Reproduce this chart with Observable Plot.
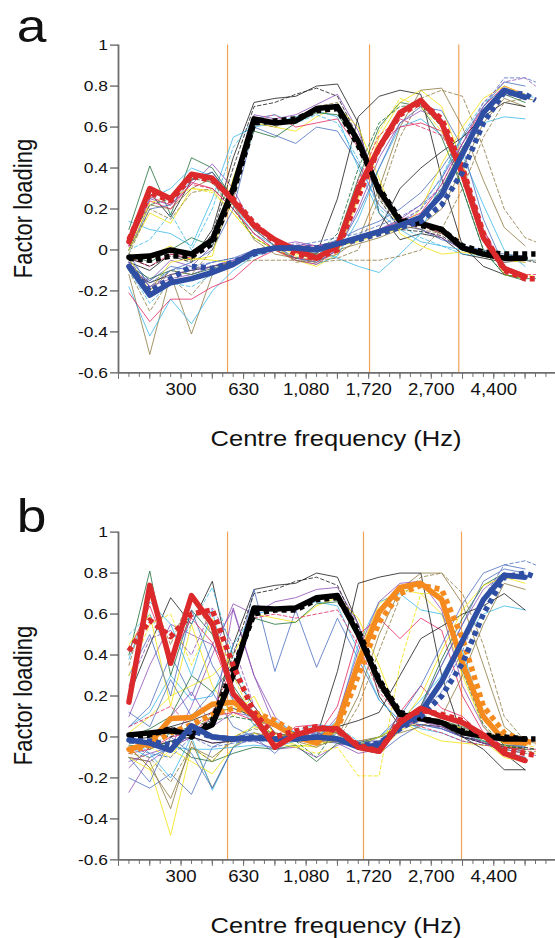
<!DOCTYPE html>
<html><head><meta charset="utf-8">
<script src="https://cdn.jsdelivr.net/npm/d3@7"></script>
<script src="https://cdn.jsdelivr.net/npm/@observablehq/plot@0.6"></script>
<style>
html,body{margin:0;padding:0;background:#fff;overflow:hidden;}
#chart{position:relative;width:555px;height:938px;background:#fff;}
.panel{position:absolute;left:0;}
</style></head><body><div id="chart"></div>
<script>
// ---------- axes / ticks ----------
const bandCentres = [0.5,1.5,2.5,3.5,4.5,5.5,6.5,7.5,8.5,9.5,10.5,11.5,12.5,13.5,14.5,15.5,16.5,17.5,18.5,19.5];
const bandCentresDashed = [0.5,1.5,2.5,3.5,4.5,5.5,6.5,7.5,8.5,9.5,10.5,11.5,12.5,13.5,14.5,15.5,16.5,17.5,18.5,19.5,20];
const xLabelBarks = [3,6,9,12,15,18];
const xLabels = ["300","630","1,080","1,720","2,700","4,400"];
const xMinorTicks = [0,0.5,1,1.5,2,2.5,3,3.5,4,4.5,5,5.5,6,6.5,7,7.5,8,8.5,9,9.5,10,10.5,11,11.5,12,12.5,13,13.5,14,14.5,15,15.5,16,16.5,17,17.5,18,18.5,19,19.5,20,20.5,21];
const xMajorTicks = [0,1.5,3,4.5,6,7.5,9,10.5,12,13.5,15,16.5,18,19.5,21];
const yTicks = [1,0.8,0.6,0.4,0.2,0,-0.2,-0.4,-0.6];
const aDividers = [5.23,12.04,16.32];
const bDividers = [5.23,11.75,16.45];

// ---------- panel a: thick factor lines ----------
const aBlack      = [-0.035,-0.03,0.0,-0.02,0.05,0.30,0.64,0.62,0.63,0.69,0.70,0.53,0.29,0.14,0.13,0.10,0.01,-0.02,-0.04,-0.04];
const aBlackDash  = [-0.04,-0.05,-0.03,-0.03,0.03,0.28,0.62,0.63,0.64,0.68,0.69,0.51,0.30,0.15,0.12,0.10,0.02,-0.01,-0.02,-0.02,-0.02];
const aRed        = [0.04,0.30,0.25,0.37,0.35,0.24,0.12,0.05,0.0,-0.04,0.02,0.30,0.50,0.67,0.73,0.62,0.37,0.06,-0.09,-0.13];
const aRedDash    = [0.05,0.28,0.24,0.36,0.34,0.25,0.13,0.04,-0.02,-0.04,0.0,0.26,0.50,0.66,0.72,0.64,0.40,0.08,-0.10,-0.14,-0.14];
const aBlue       = [-0.08,-0.22,-0.16,-0.14,-0.11,-0.07,-0.01,0.01,0.01,0.0,0.03,0.06,0.09,0.12,0.16,0.27,0.47,0.67,0.78,0.745];
const aBlueDash   = [-0.08,-0.20,-0.14,-0.08,-0.09,-0.06,-0.02,0.01,0.01,0.01,0.03,0.05,0.08,0.11,0.14,0.22,0.38,0.62,0.77,0.76,0.73];

// ---------- panel a: thin individual lines ----------
const aThinSolid = [
  [-0.06,-0.10,-0.02,-0.05,0.10,0.45,0.72,0.74,0.75,0.80,0.81,0.62,0.18,0.05,0.08,0.06,-0.02,-0.04,-0.06,-0.05],
  [-0.10,-0.15,-0.05,-0.08,0.02,0.28,0.66,0.64,0.66,0.71,0.76,0.58,0.30,0.14,0.10,0.06,0.0,-0.03,-0.05,-0.06],
  [-0.02,-0.18,-0.10,-0.06,0.0,0.20,0.60,0.56,0.52,0.60,0.58,0.42,0.22,0.12,0.10,0.05,0.02,0.0,-0.02,-0.03],
  [0.14,0.10,0.08,0.02,0.25,0.55,0.60,0.62,0.65,0.68,0.65,0.40,0.18,0.10,0.04,0.02,0.0,-0.02,-0.03,-0.05],
  [-0.05,-0.03,0.02,-0.05,-0.03,0.35,0.62,0.60,0.58,0.65,0.70,0.60,0.35,0.08,0.02,-0.02,-0.01,-0.03,-0.05,-0.06],
  [-0.02,-0.06,0.0,0.06,0.02,0.30,0.58,0.55,0.62,0.67,0.66,0.52,0.28,0.14,0.12,0.08,0.02,-0.01,-0.03,-0.04],
  [-0.04,-0.08,-0.02,-0.04,0.04,0.32,0.64,0.66,0.60,0.62,0.64,0.50,0.30,0.16,0.12,0.08,0.02,-0.02,-0.04,-0.05],
  [0.10,0.41,0.17,0.45,0.40,0.25,0.10,0.05,0.0,-0.03,0.05,0.35,0.60,0.72,0.70,0.55,0.30,0.0,-0.12,-0.15],
  [0.0,0.28,0.16,0.34,0.38,0.25,0.12,0.04,0.0,-0.02,0.25,0.65,0.75,0.78,0.76,0.35,0.02,-0.08,-0.12,-0.14],
  [0.02,0.25,0.22,0.32,0.42,0.30,0.10,0.02,-0.04,-0.06,0.0,0.20,0.45,0.62,0.68,0.64,0.42,0.10,-0.10,-0.14],
  [0.0,0.18,0.13,0.30,0.29,0.18,0.06,0.0,-0.05,-0.08,-0.02,0.25,0.55,0.72,0.78,0.70,0.42,0.08,-0.12,-0.14],
  [0.05,0.25,0.30,0.40,0.36,0.22,0.08,0.02,-0.05,-0.07,-0.03,0.15,0.40,0.60,0.64,0.56,0.46,0.22,0.0,-0.08],
  [0.0,0.22,0.20,0.30,0.35,0.22,0.05,-0.02,-0.04,-0.05,-0.02,0.05,0.30,0.60,0.78,0.79,0.60,0.34,0.11,0.02],
  [0.02,0.24,0.20,0.33,0.30,0.20,0.08,0.0,-0.05,-0.07,0.0,0.28,0.52,0.60,0.62,0.58,0.35,0.05,-0.10,-0.13],
  [0.0,0.20,0.22,0.34,0.38,0.24,0.10,0.02,-0.04,-0.06,0.0,0.18,0.40,0.62,0.70,0.68,0.50,0.15,-0.08,-0.12],
  [-0.12,-0.51,-0.12,-0.41,-0.12,-0.08,-0.02,0.0,0.0,-0.02,0.0,0.03,0.06,0.10,0.12,0.20,0.40,0.62,0.74,0.70],
  [-0.18,-0.42,-0.24,-0.36,-0.20,-0.10,-0.03,0.0,0.02,0.0,-0.04,-0.08,-0.11,-0.02,0.08,0.35,0.55,0.62,0.65,0.64],
  [-0.21,-0.35,-0.24,-0.24,-0.18,-0.14,-0.05,0.0,0.02,0.02,0.04,0.06,0.10,0.14,0.18,0.32,0.52,0.70,0.80,0.76],
  [-0.05,-0.15,-0.08,-0.10,-0.06,-0.04,0.0,0.02,0.0,0.01,0.05,0.10,0.14,0.20,0.28,0.40,0.55,0.70,0.82,0.80],
  [-0.06,-0.18,-0.14,-0.12,-0.08,-0.05,0.0,0.02,0.04,0.02,0.04,0.07,0.10,0.15,0.22,0.35,0.52,0.68,0.76,0.74],
  [-0.04,-0.20,-0.06,-0.04,-0.05,-0.06,0.0,0.02,-0.02,-0.04,0.02,0.04,0.08,0.10,0.20,0.42,0.60,0.74,0.80,0.76],
  [-0.08,-0.14,-0.10,-0.12,-0.09,-0.06,-0.01,0.01,0.02,0.0,0.02,0.05,0.08,0.12,0.16,0.30,0.50,0.66,0.76,0.72],
  [-0.10,-0.16,-0.12,-0.10,-0.08,-0.06,-0.02,0.0,0.0,0.0,0.03,0.06,0.10,0.30,0.40,0.48,0.55,0.65,0.72,0.70]
];
const aThinSolidColors = ["black","purple","steel","cyan","yellow","green","crimson",
  "green","black","purple","yellow","cyan","brown","crimson","steel",
  "brown","cyan","crimson","steel","purple","yellow","green","black"];
const aThinDashed = [
  [-0.04,-0.08,-0.03,-0.06,0.08,0.40,0.70,0.72,0.76,0.79,0.75,0.55,0.25,0.10,0.09,0.07,0.0,-0.03,-0.05,-0.05,-0.06],
  [0.0,0.05,0.18,0.0,0.20,0.50,0.64,0.66,0.62,0.66,0.62,0.44,0.20,0.12,0.06,0.02,-0.02,-0.03,-0.04,-0.05,-0.05],
  [-0.08,-0.20,-0.10,-0.12,0.0,0.25,0.62,0.60,0.64,0.70,0.72,0.50,0.26,0.12,0.10,0.08,0.02,-0.02,-0.04,-0.05,-0.05],
  [0.05,0.22,0.25,0.35,0.33,0.20,0.06,0.0,-0.04,-0.02,0.08,0.40,0.62,0.70,0.71,0.60,0.30,0.0,-0.12,-0.14,-0.14],
  [-0.02,0.20,0.15,0.28,0.30,0.22,0.10,0.02,-0.06,-0.05,-0.04,0.0,0.25,0.55,0.74,0.78,0.75,0.50,0.20,0.06,0.04],
  [0.0,0.23,0.26,0.30,0.28,0.18,0.06,0.0,-0.03,-0.05,0.02,0.30,0.58,0.74,0.70,0.58,0.36,0.05,-0.10,-0.12,-0.13],
  [0.02,0.26,0.22,0.32,0.30,0.20,0.08,0.0,-0.04,-0.05,0.04,0.34,0.56,0.64,0.60,0.56,0.40,0.10,-0.08,-0.12,-0.12],
  [-0.06,-0.16,-0.10,-0.08,-0.06,-0.04,-0.02,0.0,0.02,0.04,0.06,0.08,0.12,0.16,0.22,0.30,0.46,0.70,0.84,0.84,0.82],
  [-0.10,-0.30,-0.14,-0.22,-0.10,-0.06,-0.05,-0.05,-0.05,-0.06,-0.05,-0.05,-0.05,-0.03,0.0,0.10,0.30,0.55,0.72,0.74,0.73],
  [-0.10,-0.26,-0.16,-0.18,-0.12,-0.08,-0.02,0.0,0.0,0.0,0.03,0.06,0.10,0.13,0.20,0.36,0.56,0.72,0.78,0.76,0.74],
  [-0.06,-0.18,-0.12,-0.10,-0.08,-0.05,-0.01,0.01,0.03,0.02,0.04,0.06,0.10,0.14,0.20,0.32,0.52,0.72,0.82,0.84,0.80]
];
const aThinDashedColors = ["black","cyan","brown","green","brown","yellow","crimson","steel","brown","cyan","purple"];

// ---------- panel b: thick factor lines ----------
const bOrange     = [-0.06,-0.03,0.09,0.095,0.16,0.17,0.11,0.06,0.0,-0.03,0.06,0.36,0.61,0.73,0.75,0.67,0.36,0.10,-0.02,-0.03];
const bOrangeDash = [-0.07,-0.04,0.02,0.06,0.11,0.14,0.12,0.08,0.02,-0.02,0.04,0.30,0.56,0.70,0.74,0.72,0.48,0.15,0.02,-0.02,-0.03];
const bBlack      = [0.01,0.02,0.03,0.015,0.06,0.30,0.63,0.625,0.63,0.68,0.69,0.50,0.27,0.11,0.09,0.07,0.02,0.005,-0.01,-0.01];
const bBlackDash  = [0.0,0.01,0.04,0.0,0.08,0.33,0.60,0.62,0.62,0.67,0.68,0.52,0.28,0.12,0.09,0.07,0.03,0.01,0.0,-0.01,-0.01];
const bBlue       = [-0.015,-0.03,-0.065,0.055,0.0,-0.01,-0.005,-0.01,-0.01,0.0,-0.01,-0.05,-0.04,0.05,0.12,0.27,0.47,0.67,0.79,0.78];
const bBlueDash   = [-0.02,-0.02,-0.04,0.03,0.0,-0.01,0.0,-0.01,-0.01,0.0,-0.01,-0.04,-0.03,0.04,0.10,0.20,0.36,0.60,0.78,0.80,0.78];
const bRed        = [0.17,0.74,0.36,0.69,0.55,0.21,0.10,-0.05,0.01,0.04,0.04,-0.05,-0.07,0.07,0.14,0.10,0.07,0.01,-0.08,-0.115];
const bRedDash    = [0.42,0.57,0.49,0.60,0.62,0.35,0.12,0.0,0.03,0.05,0.03,-0.04,-0.07,0.08,0.13,0.11,0.08,0.0,-0.06,-0.08,-0.09];

// ---------- panel b: thin individual lines ----------
const bThinSolid = [
  [0.0,0.02,0.05,0.0,0.08,0.45,0.72,0.74,0.75,0.80,0.78,0.55,0.20,0.05,0.06,0.05,0.0,-0.02,-0.04,-0.04],
  [-0.10,-0.12,-0.05,0.15,0.40,0.65,0.60,0.66,0.68,0.72,0.73,0.55,0.28,0.10,0.08,0.04,0.0,-0.03,-0.05,-0.05],
  [0.05,0.15,0.40,0.20,0.45,0.30,0.72,0.32,0.62,0.34,0.58,0.38,0.18,0.08,0.06,0.04,0.0,-0.02,-0.04,-0.05],
  [0.05,0.12,0.30,0.18,0.20,0.45,0.60,0.62,0.64,0.66,0.64,0.42,0.18,0.08,0.04,0.02,-0.02,-0.04,-0.05,-0.06],
  [0.02,0.10,0.20,0.25,0.30,0.40,0.60,0.58,0.56,0.64,0.68,0.58,0.35,0.08,0.02,-0.02,-0.03,-0.04,-0.05,-0.06],
  [0.0,0.04,0.10,0.30,0.22,0.35,0.58,0.55,0.56,0.65,0.66,0.52,0.28,0.12,0.10,0.06,0.0,-0.02,-0.04,-0.06],
  [0.40,0.81,0.30,0.62,0.50,0.25,0.10,0.0,0.02,0.04,0.0,-0.06,-0.08,0.05,0.10,0.08,0.05,0.0,-0.08,-0.10],
  [0.20,0.45,0.68,0.55,0.76,0.30,0.15,0.02,0.0,0.05,0.02,-0.04,-0.06,0.12,0.10,0.08,0.03,-0.02,-0.08,-0.16],
  [0.10,0.35,0.55,0.50,0.45,0.62,0.30,0.05,0.02,0.0,-0.03,-0.08,-0.06,0.08,0.10,0.05,0.02,-0.03,-0.06,-0.08],
  [0.45,0.60,0.15,0.55,0.25,0.10,0.20,0.0,-0.02,0.0,0.02,-0.05,-0.07,0.03,0.08,0.06,0.02,-0.02,-0.10,-0.12],
  [0.30,0.50,0.20,0.62,0.35,0.18,0.08,0.0,0.02,0.02,0.0,-0.05,-0.08,0.0,0.06,0.04,0.0,-0.03,-0.07,-0.10],
  [0.42,0.64,0.38,0.58,0.46,0.20,0.08,-0.03,0.05,0.06,0.04,-0.05,-0.06,0.12,0.25,0.14,0.10,0.0,-0.08,-0.12],
  [0.12,0.05,0.28,0.10,0.22,0.05,0.0,-0.02,0.0,-0.02,0.0,-0.04,-0.04,0.04,0.10,0.08,0.04,0.0,-0.05,-0.07],
  [0.38,0.66,0.55,0.30,0.62,0.18,0.06,0.0,0.02,0.03,0.0,-0.04,-0.06,0.05,0.10,0.06,0.02,-0.02,-0.06,-0.08],
  [-0.15,-0.05,0.10,0.22,0.05,0.63,0.30,0.10,0.0,-0.02,0.0,-0.03,-0.05,0.05,0.08,0.05,0.0,-0.03,-0.05,-0.07],
  [-0.05,-0.15,-0.48,-0.05,-0.12,0.0,0.05,0.02,-0.04,-0.05,0.05,0.40,0.65,0.72,0.70,0.60,0.30,0.05,-0.04,-0.06],
  [-0.10,-0.12,-0.35,-0.02,-0.25,-0.05,0.02,0.0,-0.02,-0.05,0.0,0.20,0.50,0.72,0.80,0.80,0.65,0.35,0.05,-0.03],
  [0.0,-0.08,-0.20,0.0,-0.26,-0.05,0.06,0.08,0.02,0.0,0.08,0.45,0.66,0.70,0.62,0.60,0.42,0.10,-0.02,-0.05],
  [-0.27,-0.10,-0.05,0.0,0.05,0.12,0.10,0.05,0.0,-0.02,0.10,0.42,0.66,0.75,0.76,0.62,0.25,0.05,-0.06,-0.08],
  [-0.08,-0.06,0.0,0.02,0.10,0.12,0.08,0.05,0.0,0.0,0.15,0.50,0.58,0.48,0.58,0.52,0.20,0.02,-0.05,-0.06],
  [-0.02,0.0,0.05,0.08,0.12,0.14,0.10,0.05,0.02,0.0,0.32,0.75,0.78,0.80,0.80,0.30,0.0,-0.06,-0.16,-0.16],
  [-0.20,-0.25,-0.18,-0.28,-0.05,0.0,0.02,-0.02,0.0,-0.02,-0.03,-0.05,0.0,0.10,0.25,0.45,0.65,0.80,0.84,0.82],
  [-0.05,-0.10,-0.05,-0.06,-0.06,-0.05,-0.04,-0.05,-0.02,0.02,0.0,-0.04,0.0,0.08,0.18,0.30,0.48,0.60,0.64,0.62],
  [-0.12,-0.08,-0.05,0.0,-0.03,-0.02,-0.02,-0.06,-0.05,-0.10,-0.04,-0.02,-0.02,0.04,0.15,0.35,0.55,0.72,0.80,0.78],
  [-0.05,-0.15,-0.30,-0.05,-0.10,-0.02,0.0,0.0,-0.02,-0.02,-0.02,-0.02,0.0,0.02,0.05,0.10,0.30,0.55,0.75,0.72],
  [0.0,-0.06,-0.02,-0.10,-0.12,-0.08,-0.05,-0.06,-0.04,-0.12,-0.03,-0.03,0.0,0.05,0.15,0.38,0.58,0.74,0.80,0.77],
  [0.0,-0.05,-0.02,0.0,-0.03,-0.02,-0.01,0.0,0.02,0.0,0.05,0.08,0.12,0.30,0.48,0.54,0.60,0.64,0.70,0.62],
  [-0.10,-0.16,-0.06,-0.12,-0.18,-0.05,0.02,-0.03,-0.05,-0.03,-0.02,-0.04,0.0,0.06,0.20,0.42,0.62,0.74,0.78,0.75],
  [-0.10,-0.22,0.0,-0.08,-0.25,-0.05,0.0,-0.08,0.02,-0.03,0.02,-0.06,-0.02,0.05,0.14,0.35,0.55,0.76,0.82,0.80]
];
const bThinSolidColors = ["black","purple","steel","cyan","yellow","green",
  "green","black","purple","yellow","steel","crimson",
  "steel","cyan","purple",
  "yellow","brown","cyan","purple","crimson","black",
  "steel","cyan","purple","brown","green","black","yellow","steel"];
const bThinDashed = [
  [0.0,0.02,0.0,0.05,0.10,0.40,0.70,0.72,0.76,0.78,0.74,0.52,0.24,0.10,0.08,0.06,0.0,-0.03,-0.05,-0.05,-0.06],
  [0.05,0.10,0.15,0.05,0.12,0.35,0.58,0.60,0.58,0.60,0.62,0.45,0.22,0.10,0.05,0.02,-0.02,-0.04,-0.05,-0.06,-0.06],
  [0.50,0.60,0.40,0.55,0.73,0.40,0.10,0.0,0.03,0.06,0.05,-0.02,-0.06,0.06,0.12,0.10,0.06,0.0,-0.06,-0.08,-0.08],
  [0.35,0.70,0.45,0.70,0.50,0.22,0.06,-0.02,0.02,0.04,0.02,-0.06,-0.08,0.06,0.10,0.08,0.04,0.0,-0.05,-0.07,-0.07],
  [0.30,0.55,0.60,0.35,0.58,0.30,0.08,0.0,0.02,0.03,0.0,-0.05,-0.06,0.05,0.10,0.08,0.04,-0.01,-0.06,-0.08,-0.08],
  [0.25,0.48,0.52,0.40,0.63,0.45,0.15,0.02,0.0,0.02,0.0,-0.06,-0.08,0.04,0.08,0.06,0.02,-0.03,-0.06,-0.08,-0.09],
  [-0.04,-0.05,0.02,0.05,0.08,0.10,0.08,0.06,-0.02,-0.10,0.05,0.35,0.62,0.72,0.74,0.66,0.32,0.06,-0.04,-0.06,-0.06],
  [0.0,-0.05,-0.10,0.05,0.10,0.15,0.10,0.02,-0.05,-0.08,-0.05,-0.19,-0.19,0.35,0.70,0.70,0.40,0.08,-0.02,-0.04,-0.05],
  [-0.08,-0.10,-0.22,-0.05,-0.12,0.0,0.04,0.02,0.0,-0.04,-0.02,0.15,0.42,0.68,0.78,0.80,0.70,0.45,0.10,-0.02,-0.03],
  [-0.05,-0.08,-0.10,0.0,-0.05,-0.03,-0.02,-0.02,0.0,0.0,-0.02,-0.04,-0.02,0.04,0.12,0.22,0.42,0.68,0.84,0.86,0.84]
];
const bThinDashedColors = ["black","crimson","cyan","brown","yellow","purple","green","yellow","brown","steel"];

// ---------- styling ----------
const palette = {black:"#1a1a1a", green:"#1f6e3a", purple:"#8d4fb5", cyan:"#3cb8e8", yellow:"#f2e20a",
  brown:"#8c7840", steel:"#4b6fbf", crimson:"#e3265e"};
const thick = {black:"#000000", red:"#dc2a2c", blue:"#2f4fa4", orange:"#f58a1f"};
const dividerColor = "#f3a259";
const axisColor = "#6e6e6e";

function pts(xs, vs){ return vs.map((v,i)=>({x: xs[i], y: v})); }

function thinMarks(solid, solidCols, dashed, dashedCols){
  const m = [];
  solid.forEach((vs,i)=> m.push(Plot.line(pts(bandCentres, vs), {x:"x", y:"y", stroke: palette[solidCols[i]], strokeWidth: 0.8, strokeLinejoin:"miter"})));
  dashed.forEach((vs,i)=> m.push(Plot.line(pts(bandCentresDashed, vs), {x:"x", y:"y", stroke: palette[dashedCols[i]], strokeWidth: 0.8, strokeDasharray:"3.5,2.5"})));
  return m;
}
function thickPair(solid, dashed, color){
  return [
    Plot.line(pts(bandCentres, solid), {x:"x", y:"y", stroke: color, strokeWidth: 5.5, strokeLinejoin:"round"}),
    Plot.line(pts(bandCentresDashed, dashed), {x:"x", y:"y", stroke: color, strokeWidth: 5.5, strokeDasharray:"5,4", strokeLinecap:"butt"})
  ];
}

const labelMap = new Map(xLabelBarks.map((b,i)=>[b, xLabels[i]]));

function makePanel(dividers, lineMarks, letter, letterY){
  const svg = Plot.plot({
    width: 555, height: 487,
    marginLeft: 118, marginRight: 0, marginTop: 44.6, marginBottom: 114.6,
    x: {domain:[0,21], range:[118, 555.85]},
    y: {domain:[-0.6,1], range:[372.4, 44.6]},
    style: {fontFamily: "'Liberation Sans', Arial, Helvetica, sans-serif", color:"#111", background:"#fff", overflow:"visible"},
    marks: [
      Plot.ruleX(dividers, {y1:-0.6, y2:1, stroke: dividerColor, strokeWidth: 1.2}),
      ...lineMarks,
      Plot.ruleY([-0.6], {stroke: axisColor, strokeWidth: 1.6}),
      Plot.ruleX([0], {y1:-0.6, y2:1, stroke: axisColor, strokeWidth: 1.8}),
      Plot.axisY({ticks: yTicks, anchor:"left", label: null, tickSize: 8, tickPadding: 2.5, tickFormat: d => String(d), fontSize: 15, stroke: "#333"}),
      Plot.axisX({ticks: xMinorTicks, anchor:"bottom", label: null, tickSize: 4.5, tickFormat: () => "", stroke: axisColor}),
      Plot.axisX({ticks: xMajorTicks, anchor:"bottom", label: null, tickSize: 6.5, tickFormat: () => "", stroke: axisColor}),
      Plot.axisX({ticks: xLabelBarks, anchor:"bottom", label: null, tickSize: 0, tickPadding: 11, tickFormat: d => labelMap.get(d), fontSize: 16})
    ]
  });
  // widen all text slightly to match the stretched Helvetica of the original
  svg.querySelectorAll("text").forEach(t => {
    const tr = t.getAttribute("transform");
    if (tr) t.setAttribute("transform", tr + " scale(1.16,1)");
  });
  const s = d3.select(svg);
  s.append("text").attr("transform", `translate(31.5,${letterY}) scale(1.16,1)`)
    .attr("text-anchor","middle").attr("font-size", 46).attr("fill","#111").text(letter);
  s.append("text").attr("transform", "translate(31.8,208.5) scale(1.16,1) rotate(-90)")
    .attr("text-anchor","middle").attr("font-size", 22).attr("fill","#111").text("Factor loading");
  s.append("text").attr("transform", "translate(336,446) scale(1.16,1)")
    .attr("text-anchor","middle").attr("font-size", 22).attr("fill","#111").text("Centre frequency (Hz)");
  return svg;
}

const marksA = [
  ...thinMarks(aThinSolid, aThinSolidColors, aThinDashed, aThinDashedColors),
  ...thickPair(aBlack, aBlackDash, thick.black),
  ...thickPair(aRed, aRedDash, thick.red),
  ...thickPair(aBlue, aBlueDash, thick.blue)
];
const marksB = [
  ...thinMarks(bThinSolid, bThinSolidColors, bThinDashed, bThinDashedColors),
  ...thickPair(bOrange, bOrangeDash, thick.orange),
  ...thickPair(bBlack, bBlackDash, thick.black),
  ...thickPair(bBlue, bBlueDash, thick.blue),
  ...thickPair(bRed, bRedDash, thick.red)
];

const chart = document.getElementById("chart");
const pa = makePanel(aDividers, marksA, "a", 42);
pa.classList.add("panel"); pa.style.top = "0px";
chart.appendChild(pa);
const pb = makePanel(bDividers, marksB, "b", 44.5);
pb.classList.add("panel"); pb.style.top = "486.8px";
chart.appendChild(pb);
</script></body></html>
